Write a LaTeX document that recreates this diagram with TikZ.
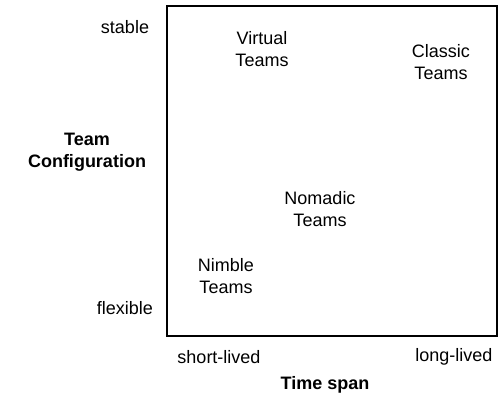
\documentclass[tikz,border=0pt]{standalone}
\usepackage{fontspec}
\setmainfont{Liberation Sans}
\begin{document}
\begin{tikzpicture}[x=1pt,y=-1pt,
  lbl/.style={font=\fontsize{18}{22.5}\selectfont, align=center, inner sep=0pt},
  axis/.style={font=\fontsize{18}{22.5}\selectfont\bfseries, align=center, inner sep=0pt}]
\useasboundingbox (0,0) rectangle (499,397);
\draw[line width=1.1pt] (167,6) rectangle (497,336);
\node[lbl] (stable) at (125,27) {stable};
\node[lbl] (flexible) at (125,308) {flexible};
\node[axis] (conf) at (87,152) {Team\\Configuration};
\node[lbl] (virtual) at (262,49) {Virtual\\Teams};
\node[lbl] (classic) at (441,62) {Classic\\Teams};
\node[lbl] (nomadic) at (320,209) {Nomadic\\Teams};
\node[lbl] (nimble) at (226,276) {Nimble\\Teams};
\node[lbl] (short) at (219,357) {short-lived};
\node[lbl] (long) at (454,357) {long-lived};
\node[axis] (span) at (325,385) {Time span};
\end{tikzpicture}
\end{document}
